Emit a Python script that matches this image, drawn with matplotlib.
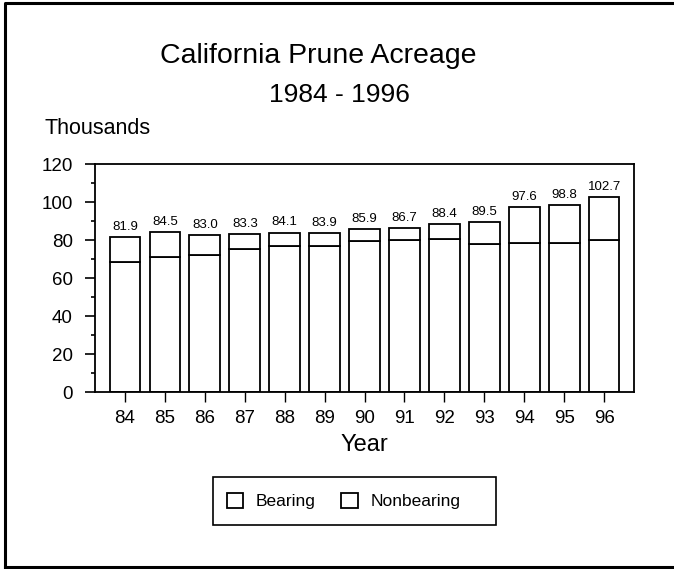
# California prune acreage, stacked bars (bearing + nonbearing)

import matplotlib.pyplot as plt
from matplotlib.lines import Line2D
from matplotlib.patches import Rectangle

plt.rcParams['font.family'] = ['Liberation Sans', 'DejaVu Sans']

# Years (tick labels)
years = ["84", "85", "86", "87", "88", "89", "90", "91", "92", "93", "94", "95", "96"]

# Total acreage (thousands), as labelled above the bars
total = [81.9, 84.5, 83.0, 83.3, 84.1, 83.9, 85.9, 86.7, 88.4, 89.5, 97.6, 98.8, 102.7]

# Bearing acreage (thousands)
bearing = [68.5, 71.5, 72.5, 75.5, 77.1, 77.3, 79.9, 80.1, 80.5, 78.3, 78.7, 78.7, 80.3]

nonbearing = [round(t - b, 1) for t, b in zip(total, bearing)]

fig = plt.figure(figsize=(6.74, 5.69), dpi=100)
ax = fig.add_axes([0.141, 0.3105, 0.7997, 0.4004])

x = range(len(years))
ax.bar(x, bearing, width=0.77, color='white', edgecolor='black',
       linewidth=1.3, label='Bearing')
ax.bar(x, nonbearing, width=0.77, bottom=bearing, color='white',
       edgecolor='black', linewidth=1.3, label='Nonbearing')

for i, t in enumerate(total):
    ax.annotate(f"{t:.1f}", (i, t), xytext=(0, 3), textcoords='offset points',
                ha='center', va='bottom', fontsize=9.5)

ax.set_xlim(-0.75, 12.75)
ax.set_ylim(0, 120)
ax.set_xticks(list(x))
ax.set_xticklabels(years, fontsize=13.5)
ax.set_yticks(range(0, 121, 20))
ax.set_yticks(range(10, 120, 20), minor=True)
ax.tick_params(axis='y', which='major', length=7, width=1.2, labelsize=13.5, pad=9)
ax.tick_params(axis='y', which='minor', length=3, width=1.2)
ax.tick_params(axis='x', length=7, width=1.0, pad=6)
for s in ax.spines.values():
    s.set_linewidth(1.3)

ax.set_xlabel("Year", fontsize=17, labelpad=5)

fig.text(0.472, 0.902, "California Prune Acreage", fontsize=20.5, ha='center', va='center')
fig.text(0.503, 0.833, "1984 - 1996", fontsize=19, ha='center', va='center')
fig.text(0.066, 0.775, "Thousands", fontsize=15.5, ha='left', va='center')

# legend frame drawn separately (it has extra room on the right)
fig.add_artist(Rectangle((212.7 / 674, 1 - 525 / 569), (496 - 212.7) / 674, 48.3 / 569,
                         transform=fig.transFigure, facecolor='none',
                         edgecolor='black', linewidth=1.2))
ax.legend(loc='center left', bbox_to_anchor=(212.7 / 674, 1 - 501 / 569),
          bbox_transform=fig.transFigure, ncol=2, fontsize=12.5, frameon=False,
          handlelength=0.95, handleheight=0.95, handletextpad=0.75,
          columnspacing=1.45, borderpad=0.8, borderaxespad=0)

# outer border (left, top, bottom)
fig.add_artist(Line2D([0.0075, 0.0075, 1.0], [0.003, 0.995, 0.995], color='black',
                      linewidth=2.2, transform=fig.transFigure))
fig.add_artist(Line2D([0.0075, 1.0], [0.003, 0.003], color='black',
                      linewidth=2.2, transform=fig.transFigure))

fig.savefig("out.png", dpi=100)
